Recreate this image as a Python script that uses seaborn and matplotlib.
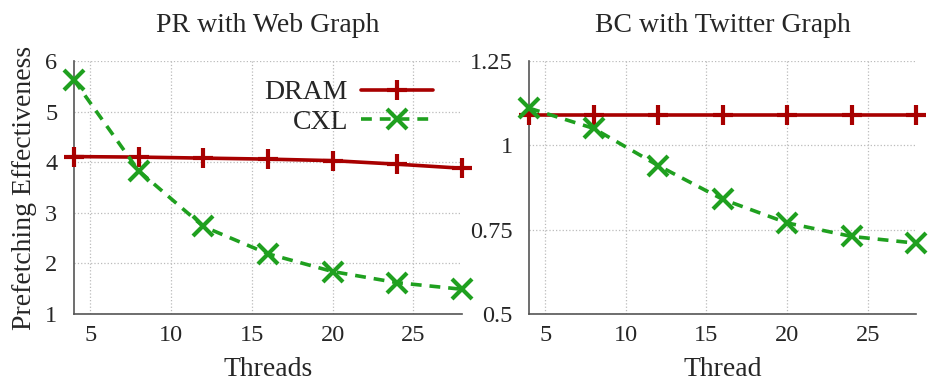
import numpy as np
import pandas as pd
import matplotlib
matplotlib.use("Agg")
import matplotlib.pyplot as plt
import seaborn as sns

# dati
threads = [4, 8, 12, 16, 20, 24, 28]
pr_dram = [4.11, 4.10, 4.08, 4.06, 4.03, 3.96, 3.88]
pr_cxl = [5.62, 3.83, 2.73, 2.19, 1.84, 1.62, 1.49]
bc_dram = [1.09, 1.09, 1.09, 1.09, 1.09, 1.09, 1.09]
bc_cxl = [1.11, 1.05, 0.94, 0.84, 0.77, 0.73, 0.71]
titoli = ["PR with Web Graph", "BC with Twitter Graph"]
xlabels = ["Threads", "Thread"]

sns.set_style("white")
plt.rcParams["font.family"] = ["Liberation Serif", "DejaVu Serif"]

rosso = "#a80000"
verde = "#1fa01f"

def df_da(dram, cxl):
    return pd.DataFrame({
        "Thread": threads * 2,
        "Valore": dram + cxl,
        "Tipo": ["DRAM"] * len(threads) + ["CXL"] * len(threads),
    })

fig = plt.figure(figsize=(9.3, 3.83), dpi=100)
ax1 = fig.add_axes([0.0796, 0.180, 0.417, 0.661])
ax2 = fig.add_axes([0.569, 0.180, 0.416, 0.661])

for ax, (dram, cxl), titolo, xl in zip([ax1, ax2], [(pr_dram, pr_cxl), (bc_dram, bc_cxl)], titoli, xlabels):
    df = df_da(dram, cxl)
    sns.lineplot(data=df, x="Thread", y="Valore", hue="Tipo", style="Tipo", ax=ax,
                 palette={"DRAM": rosso, "CXL": verde},
                 markers={"DRAM": "+", "CXL": "x"},
                 dashes={"DRAM": "", "CXL": (3, 2.2)},
                 lw=2.6, markersize=15, markeredgewidth=3, legend=True)
    ax.set_xlim(4, 28)
    ax.set_xticks([5, 10, 15, 20, 25])
    ax.grid(True, color="#bbbbbb", linestyle=":", lw=0.9)
    for s in ["top", "right"]:
        ax.spines[s].set_visible(False)
    for s in ["left", "bottom"]:
        ax.spines[s].set_color("#555555")
        ax.spines[s].set_linewidth(1.2)
    ax.tick_params(direction="in", length=7, width=1, color="#555555", labelsize=17.5)
    ax.tick_params(axis="y", pad=12)
    ax.tick_params(axis="x", pad=8)
    ax.set_title(titolo, fontsize=20, pad=21)
    ax.set_xlabel(xl, fontsize=20, labelpad=8)
    ax.set_ylabel("")
    for ln in ax.lines:
        ln.set_clip_on(False)
        ln.set_markeredgecolor(ln.get_color())
        ln.set_zorder(3)

ax1.set_ylim(1, 6)
ax1.set_yticks([1, 2, 3, 4, 5, 6])
ax1.set_ylabel("Prefetching Effectiveness", fontsize=20, labelpad=6)
ax2.set_ylim(0.5, 1.25)
ax2.set_yticks([0.5, 0.75, 1, 1.25])
ax2.set_yticklabels(["0.5", "0.75", "1", "1.25"])

h, l = ax1.get_legend_handles_labels()
for hh in h:
    hh.set_markeredgecolor(hh.get_color())
    hh.set_markeredgewidth(3)
    hh.set_markersize(15)
ax1.legend(h, l, loc="upper right", bbox_to_anchor=(0.925, 0.925), frameon=False, markerfirst=False,
           fontsize=20, handlelength=2.6, handletextpad=0.45, labelspacing=0.15,
           borderpad=0, borderaxespad=0)
ax2.get_legend().remove()

fig.savefig("out.png", dpi=100)
